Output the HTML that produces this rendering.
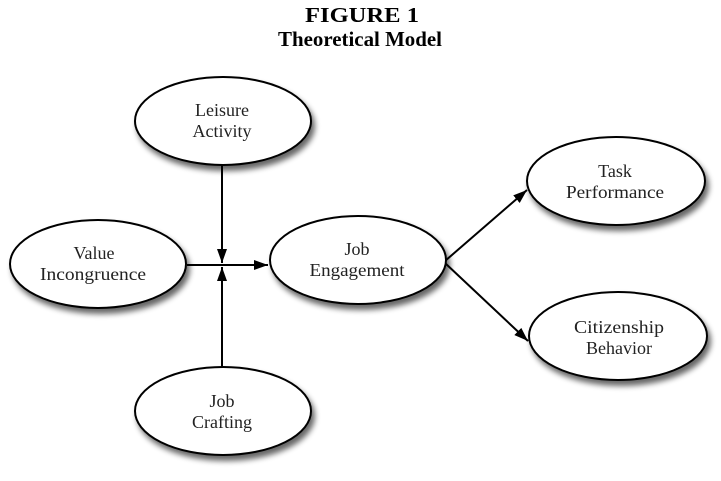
<!DOCTYPE html>
<html><head><meta charset="utf-8"><style>
html,body{margin:0;padding:0;background:#fff;}
svg{display:block;}
</style></head><body>
<svg width="721" height="481" viewBox="0 0 721 481" xmlns="http://www.w3.org/2000/svg">
<defs>
<filter id="sh" x="-20%" y="-20%" width="150%" height="160%">
<feGaussianBlur in="SourceAlpha" stdDeviation="3"/>
<feOffset dx="3" dy="5" result="b"/>
<feComponentTransfer><feFuncA type="linear" slope="0.6"/></feComponentTransfer>
<feMerge><feMergeNode/><feMergeNode in="SourceGraphic"/></feMerge>
</filter>
<marker id="ar" markerWidth="14" markerHeight="10" refX="14" refY="5" orient="auto" markerUnits="userSpaceOnUse">
<path d="M0,0 L14,5 L0,10 Z" fill="#000"/>
</marker>
</defs>
<g font-family="Liberation Serif, serif" font-weight="bold" text-anchor="middle" fill="#000">
<text x="362" y="22" font-size="21" textLength="114" lengthAdjust="spacingAndGlyphs">FIGURE 1</text>
<text x="360" y="46" font-size="21" textLength="164" lengthAdjust="spacingAndGlyphs">Theoretical Model</text>
</g>
<g stroke="#000" stroke-width="2" fill="none">
<line x1="187" y1="265" x2="268" y2="265" marker-end="url(#ar)"/>
<line x1="222" y1="165" x2="222" y2="263" marker-end="url(#ar)"/>
<line x1="222" y1="368" x2="222" y2="267" marker-end="url(#ar)"/>
<line x1="445" y1="261" x2="527" y2="190" marker-end="url(#ar)"/>
<line x1="445" y1="263" x2="528" y2="341" marker-end="url(#ar)"/>
</g>
<g fill="#fff" stroke="#000" stroke-width="2" filter="url(#sh)">
<ellipse cx="223" cy="121" rx="88" ry="44"/>
<ellipse cx="98" cy="264" rx="88" ry="44"/>
<ellipse cx="358" cy="260" rx="88" ry="44"/>
<ellipse cx="223" cy="411" rx="88" ry="44"/>
<ellipse cx="616" cy="181" rx="89" ry="44"/>
<ellipse cx="618" cy="336" rx="89" ry="44"/>
</g>
<g font-family="Liberation Serif, serif" font-size="18" text-anchor="middle" fill="#222">
<text x="222" y="116">Leisure</text><text x="222" y="137">Activity</text>
<text x="94" y="259">Value</text><text x="93" y="280" textLength="106" lengthAdjust="spacingAndGlyphs">Incongruence</text>
<text x="357" y="255">Job</text><text x="357" y="276" textLength="95" lengthAdjust="spacingAndGlyphs">Engagement</text>
<text x="222" y="407">Job</text><text x="222" y="428">Crafting</text>
<text x="615" y="177">Task</text><text x="615" y="198" textLength="98" lengthAdjust="spacingAndGlyphs">Performance</text>
<text x="619" y="333" textLength="90" lengthAdjust="spacingAndGlyphs">Citizenship</text><text x="619" y="354">Behavior</text>
</g>
</svg>
</body></html>
